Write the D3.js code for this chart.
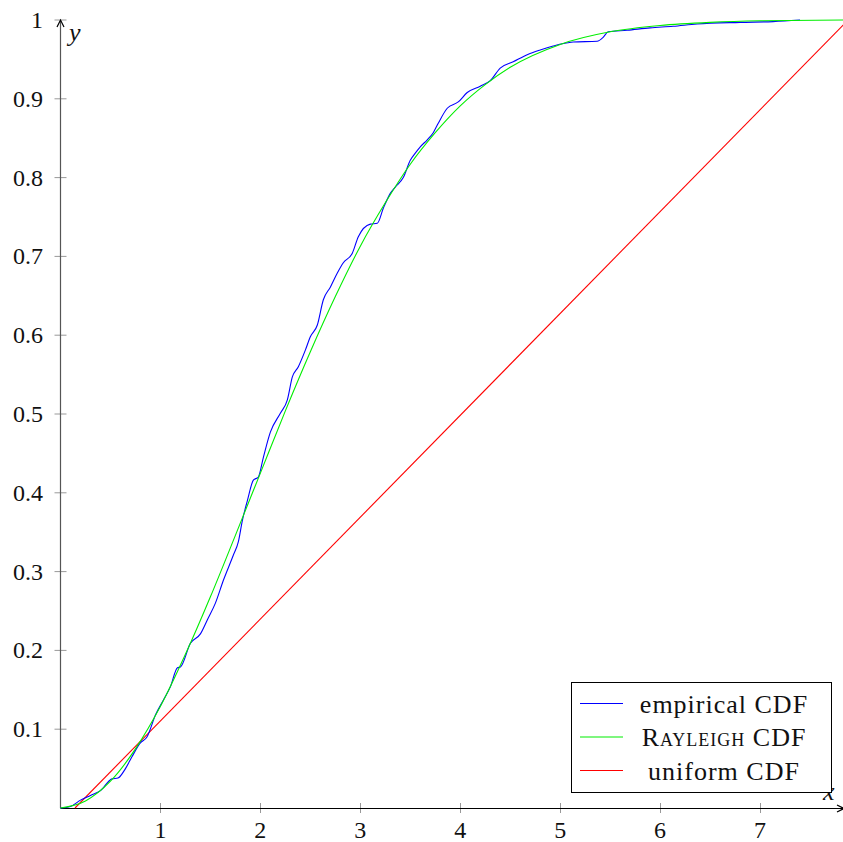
<!DOCTYPE html>
<html>
<head>
<meta charset="utf-8">
<script src="https://cdn.jsdelivr.net/npm/d3@7"></script>
<style>
  html, body { margin: 0; padding: 0; background: #fff; }
</style>
</head>
<body>
<div id="chart"></div>
<script>
// empirical CDF as [x, y]
const empiricalCdf = [
  [0, 0], [0.1, 0.002], [0.2, 0.01], [0.3, 0.016], [0.4, 0.022], [0.515, 0.037],
  [0.575, 0.038], [0.65, 0.05], [0.715, 0.065], [0.795, 0.082], [0.865, 0.09],
  [0.95, 0.118], [1.03, 0.137], [1.1, 0.154], [1.17, 0.178], [1.2, 0.179],
  [1.3, 0.209], [1.4, 0.221], [1.47, 0.239], [1.55, 0.26], [1.63, 0.289],
  [1.73, 0.321], [1.78, 0.338], [1.82, 0.365], [1.87, 0.39], [1.93, 0.416],
  [1.98, 0.42], [2.03, 0.445], [2.1, 0.477], [2.2, 0.501], [2.27, 0.518],
  [2.32, 0.547], [2.38, 0.56], [2.45, 0.581], [2.5, 0.598], [2.57, 0.613],
  [2.63, 0.645], [2.7, 0.661], [2.77, 0.679], [2.83, 0.692], [2.92, 0.704],
  [2.98, 0.725], [3.1, 0.741], [3.17, 0.742], [3.23, 0.761], [3.3, 0.78],
  [3.35, 0.788], [3.43, 0.8], [3.5, 0.822], [3.55, 0.831], [3.6, 0.839],
  [3.67, 0.848], [3.73, 0.857], [3.78, 0.869], [3.87, 0.888], [3.98, 0.896],
  [4.07, 0.908], [4.2, 0.916], [4.3, 0.923], [4.4, 0.939], [4.53, 0.947],
  [4.67, 0.956], [4.8, 0.962], [4.93, 0.967], [5.13, 0.972], [5.37, 0.973],
  [5.43, 0.978], [5.48, 0.985], [5.67, 0.987], [5.9, 0.99], [6.13, 0.992],
  [6.37, 0.995], [6.8, 0.997], [7.13, 0.998], [7.4, 1.0]
];

// Rayleigh CDF
const rayleighCdf = [
  [0, 0], [0.25, 0.009], [0.5, 0.034], [0.75, 0.075], [1, 0.129], [1.25, 0.195],
  [1.5, 0.268], [1.75, 0.346], [2, 0.425], [2.25, 0.504], [2.5, 0.579],
  [2.75, 0.649], [3, 0.713], [3.25, 0.768], [3.5, 0.817], [3.75, 0.857],
  [4, 0.891], [4.25, 0.918], [4.5, 0.94], [5, 0.969], [5.5, 0.985], [6, 0.993],
  [6.5, 0.997], [7, 0.999], [7.85, 1.0]
];

// uniform CDF
const uniformCdf = [[0.145, 0], [7.85, 0.996]];

const xTicks = [1, 2, 3, 4, 5, 6, 7];
const yTicks = [0.1, 0.2, 0.3, 0.4, 0.5, 0.6, 0.7, 0.8, 0.9, 1];

const legendItems = ['empirical CDF', 'Rayleigh CDF', 'uniform CDF'];
const legendColors = ['#0000ff', '#00ee00', '#ff0000'];

const chartSettings = {
  width: 843,
  height: 842,
  left: 60.5,
  right: 845,
  top: 20,
  bottom: 808,
  fontSize: 24,
  legendFontSize: 26,
  font: "'Liberation Serif', 'Times New Roman', Tinos, 'DejaVu Serif', 'Noto Serif', serif"
};

const svg = d3.select('#chart').append('svg')
  .attr('width', chartSettings.width)
  .attr('height', chartSettings.height)
  .attr('font-family', chartSettings.font)
  .style('font-family', chartSettings.font);

const xScale = d3.scaleLinear().domain([0, 7.85]).range([chartSettings.left, chartSettings.right]);
const yScale = d3.scaleLinear().domain([0, 1]).range([chartSettings.bottom, chartSettings.top]);

// ticks (grey, across the axis lines)
const axes = svg.append('g').attr('class', 'axes');

axes.selectAll('line.y-tick')
  .data(yTicks)
  .join('line')
  .attr('class', 'y-tick')
  .attr('x1', chartSettings.left - 6)
  .attr('x2', chartSettings.left + 6)
  .attr('y1', d => yScale(d))
  .attr('y2', d => yScale(d))
  .attr('stroke', '#999')
  .attr('stroke-width', 1);

axes.selectAll('line.x-tick')
  .data(xTicks)
  .join('line')
  .attr('class', 'x-tick')
  .attr('x1', d => Math.round(xScale(d)) + 0.5)
  .attr('x2', d => Math.round(xScale(d)) + 0.5)
  .attr('y1', chartSettings.bottom - 5)
  .attr('y2', chartSettings.bottom + 5)
  .attr('stroke', '#999')
  .attr('stroke-width', 1);

axes.selectAll('text.y-label')
  .data(yTicks)
  .join('text')
  .attr('class', 'y-label')
  .attr('x', 43)
  .attr('y', d => yScale(d) + 8)
  .attr('text-anchor', 'end')
  .attr('font-size', chartSettings.fontSize)
  .attr('fill', '#111')
  .text(d => d === 1 ? '1' : d3.format('.1f')(d));

axes.selectAll('text.x-label')
  .data(xTicks)
  .join('text')
  .attr('class', 'x-label')
  .attr('x', d => xScale(d))
  .attr('y', 838)
  .attr('text-anchor', 'middle')
  .attr('font-size', chartSettings.fontSize)
  .attr('fill', '#111')
  .text(d => d);

// curves
const line = d3.line()
  .x(d => xScale(d[0]))
  .y(d => yScale(d[1]));

const curves = svg.append('g').attr('class', 'curves');

curves.append('path')
  .datum(uniformCdf)
  .attr('d', line)
  .attr('fill', 'none')
  .attr('stroke', legendColors[2])
  .attr('stroke-width', 1.1);

curves.append('path')
  .datum(empiricalCdf)
  .attr('d', line.curve(d3.curveMonotoneX))
  .attr('fill', 'none')
  .attr('stroke', legendColors[0])
  .attr('stroke-width', 1.1);

curves.append('path')
  .datum(rayleighCdf)
  .attr('d', line.curve(d3.curveMonotoneX))
  .attr('fill', 'none')
  .attr('stroke', legendColors[1])
  .attr('stroke-width', 1.1);

// axis lines with arrows
axes.append('line')
  .attr('x1', chartSettings.left).attr('x2', chartSettings.left)
  .attr('y1', chartSettings.bottom).attr('y2', chartSettings.top + 1)
  .attr('stroke', '#555')
  .attr('stroke-width', 1.2);

axes.append('line')
  .attr('x1', chartSettings.left).attr('x2', chartSettings.width + 2)
  .attr('y1', chartSettings.bottom + 0.5).attr('y2', chartSettings.bottom + 0.5)
  .attr('stroke', '#000')
  .attr('stroke-width', 1.2);

axes.append('path')
  .attr('d', `M${chartSettings.left - 3.5},${chartSettings.top + 7} L${chartSettings.left},${chartSettings.top} L${chartSettings.left + 3.5},${chartSettings.top + 7}`)
  .attr('fill', 'none')
  .attr('stroke', '#000')
  .attr('stroke-width', 1.2);

axes.append('path')
  .attr('d', `M${chartSettings.width - 6},${chartSettings.bottom - 3} L${chartSettings.width + 1},${chartSettings.bottom + 0.5} L${chartSettings.width - 6},${chartSettings.bottom + 4}`)
  .attr('fill', 'none')
  .attr('stroke', '#000')
  .attr('stroke-width', 1.2);

axes.append('text')
  .attr('x', 69)
  .attr('y', 41)
  .attr('font-size', chartSettings.legendFontSize)
  .attr('font-style', 'italic')
  .attr('fill', '#111')
  .text('y');

axes.append('text')
  .attr('x', 823)
  .attr('y', 800)
  .attr('font-size', chartSettings.legendFontSize)
  .attr('font-style', 'italic')
  .attr('fill', '#111')
  .text('x');

// legend
const legend = svg.append('g').attr('class', 'legend');

legend.append('rect')
  .attr('x', 571.5)
  .attr('y', 682.5)
  .attr('width', 260)
  .attr('height', 110)
  .attr('fill', '#fff')
  .attr('stroke', '#000')
  .attr('stroke-width', 1);

const legendRows = legend.selectAll('g.legend-row')
  .data(legendItems)
  .join('g')
  .attr('class', 'legend-row')
  .attr('transform', (d, i) => `translate(0, ${703.5 + i * 33.5})`);

legendRows.append('line')
  .attr('x1', 580)
  .attr('x2', 623)
  .attr('y1', 0)
  .attr('y2', 0)
  .attr('stroke', (d, i) => legendColors[i])
  .attr('stroke-width', 1.1);

legendRows.append('text')
  .attr('x', 724)
  .attr('y', 9)
  .attr('text-anchor', 'middle')
  .attr('font-size', chartSettings.legendFontSize)
  .attr('letter-spacing', 1)
  .attr('fill', '#111')
  .style('font-variant', (d, i) => i === 1 ? 'small-caps' : 'normal')
  .text(d => d);
</script>
</body>
</html>
